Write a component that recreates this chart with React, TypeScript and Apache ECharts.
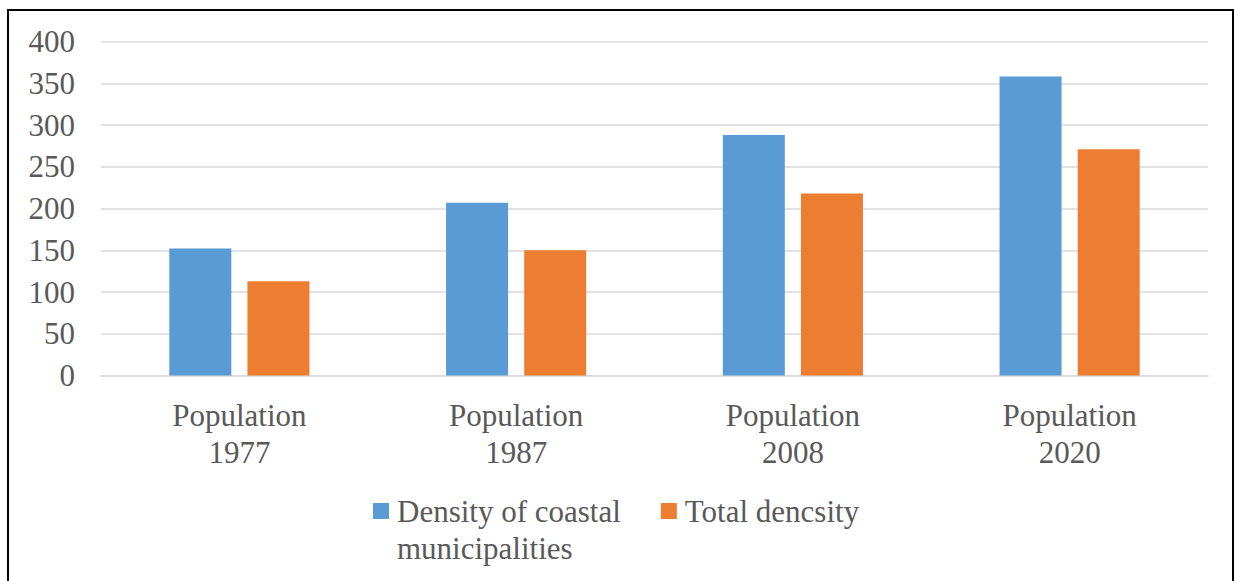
import React, { useEffect, useRef } from "react";
import * as echarts from "echarts";

const categories = ["Population\n1977", "Population\n1987", "Population\n2008", "Population\n2020"];
const coastalDensity = [152, 207, 288, 358];
const totalDensity = [113, 150, 218, 271];
const yTicks = { min: 0, max: 400, interval: 50 };

const FONT = "Liberation Serif";
const TEXT = "#595959";

export default function App() {
  const ref = useRef<HTMLDivElement>(null);

  useEffect(() => {
    if (!ref.current) return;
    const chart = echarts.init(ref.current, null, { renderer: "svg" });
    chart.setOption({
      animation: false,
      backgroundColor: "#ffffff",
      textStyle: { fontFamily: FONT },
      grid: { left: 101, right: 27, top: 41.5, bottom: 205.5 },
      xAxis: {
        type: "category",
        data: categories,
        axisLine: { lineStyle: { color: "#d9d9d9", width: 1.5 } },
        axisTick: { show: false },
        axisLabel: {
          color: TEXT,
          fontFamily: FONT,
          fontSize: 31,
          lineHeight: 37,
          margin: 21,
          interval: 0,
        },
      },
      yAxis: {
        type: "value",
        min: yTicks.min,
        max: yTicks.max,
        interval: yTicks.interval,
        axisLine: { show: false },
        axisTick: { show: false },
        splitLine: { lineStyle: { color: "#d9d9d9", width: 1.5 } },
        axisLabel: { color: TEXT, fontFamily: FONT, fontSize: 31, margin: 26 },
      },
      legend: {
        left: 373,
        top: 493,
        padding: 0,
        itemWidth: 16,
        itemHeight: 16,
        itemGap: 40,
        icon: "rect",
        textStyle: {
          color: TEXT,
          fontFamily: FONT,
          fontSize: 31,
          lineHeight: 36,
          padding: [0, 0, 0, 3],
        },
        formatter: (name: string) =>
          name === "Density of coastal municipalities" ? "Density of coastal" : name,
        data: ["Density of coastal municipalities", "Total dencsity"],
      },
      graphic: [
        {
          type: "rect",
          shape: { x: 8, y: 10, width: 1225, height: 620 },
          style: { fill: "none", stroke: "#000000", lineWidth: 2 },
          silent: true,
        },
        {
          type: "text",
          x: 397,
          y: 548,
          style: {
            text: "municipalities",
            font: `31px "${FONT}"`,
            fill: TEXT,
            verticalAlign: "middle",
          },
        },
      ],
      series: [
        {
          name: "Density of coastal municipalities",
          type: "bar",
          data: coastalDensity,
          barWidth: 62,
          barGap: "26%",
          itemStyle: { color: "#5B9BD5" },
        },
        {
          name: "Total dencsity",
          type: "bar",
          data: totalDensity,
          barWidth: 62,
          itemStyle: { color: "#ED7D31" },
        },
      ],
    });
    return () => chart.dispose();
  }, []);

  return (
    <div
      ref={ref}
      style={{ position: "fixed", left: 0, top: 0, width: 1235, height: 581 }}
    />
  );
}
